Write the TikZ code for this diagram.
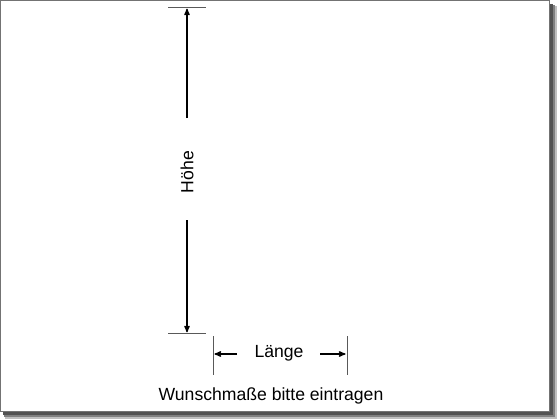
\documentclass[tikz,border=0pt]{standalone}
\usepackage{fontspec}
\setmainfont{Liberation Sans}
\usetikzlibrary{arrows}

\begin{document}
\begin{tikzpicture}
    %[->,>=stealth',shorten >=1pt]
    [x=1pt,y=-1pt,>=stealth',
     mass/.style={line width=1.3pt,->},
     strich/.style={line width=1pt,draw=black!65},
     every node/.style={font=\fontsize{17.6}{20}\selectfont,inner sep=1pt}]
    \useasboundingbox (0,0) rectangle (560,420);

    % Schatten und Blatt
    \fill[black!25] (5,6) rectangle (557,419);
    \fill[black!50] (4,5) rectangle (555,417);
    \fill[black!68] (3,4) rectangle (553,415);
    \filldraw[fill=white,draw=black!55,line width=1pt] (0.5,0.5) rectangle (549,411);

    % Hoehe
    \coordinate (ol) at (168,8);
    \coordinate (or) at (206,8);
    \coordinate (ul) at (168,333);
    \coordinate (ur) at (206,333);
    \coordinate (ho) at (187,8.7);
    \coordinate (hu) at (187,332.3);
    \coordinate (ha) at (187,118);
    \coordinate (hb) at (187,220);
    \node[rotate=90] (hoehe) at (187,172) {Höhe};

    \path[strich] (ol) edge (or);
    \path[strich] (ul) edge (ur);
    \path[mass] (ha) edge (ho);
    \path[mass] (hb) edge (hu);

    % Laenge
    \coordinate (lo) at (213,336);
    \coordinate (lu) at (213,375);
    \coordinate (ro) at (347,336);
    \coordinate (ru) at (347,375);
    \coordinate (la) at (237,354);
    \coordinate (lb) at (214.5,354);
    \coordinate (ra) at (320,354);
    \coordinate (rb) at (345.5,354);
    \node (laenge) at (279,353) {Länge};

    \path[strich] (lo) edge (lu);
    \path[strich] (ro) edge (ru);
    \path[mass] (la) edge (lb);
    \path[mass] (ra) edge (rb);

    \node (hinweis) at (271,396) {Wunschmaße bitte eintragen};

  \end{tikzpicture}
\end{document}
